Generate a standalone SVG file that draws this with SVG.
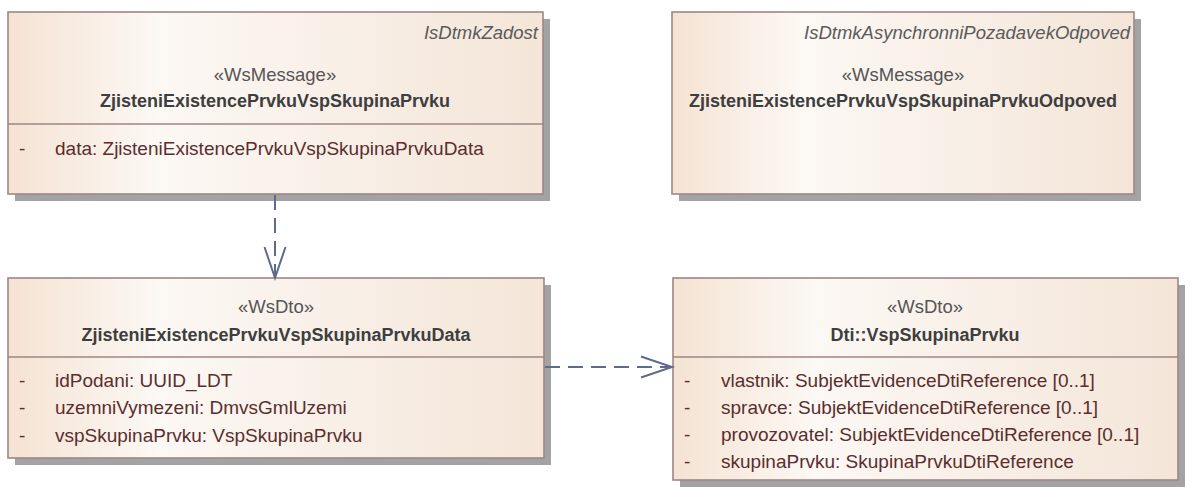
<svg xmlns="http://www.w3.org/2000/svg" width="1194" height="487" viewBox="0 0 1194 487">
<defs>
<linearGradient id="fill" x1="0" y1="0" x2="1" y2="0">
<stop offset="0" stop-color="#f5e3d3"/>
<stop offset="0.28" stop-color="#fcf8f4"/>
<stop offset="1" stop-color="#f4e5d8"/>
</linearGradient>
<marker id="open" markerUnits="userSpaceOnUse" markerWidth="40" markerHeight="40" viewBox="-36 -14 40 28" refX="0" refY="0" orient="auto">
<path d="M-31,-10.5 L0,0 L-31,10.5" fill="none" stroke="#5f6b8a" stroke-width="2"/>
</marker>
</defs>
<style>
.shadow{fill:#a3a3a3}
.box{fill:url(#fill);stroke:#9e8686;stroke-width:1.6}
.sep{stroke:#9e8686;stroke-width:1.6}
text{font-family:"Liberation Sans",Arial,sans-serif;font-size:19px}
.ns{fill:#5a5a5a;font-style:italic;text-anchor:end;font-size:18.5px}
.st{fill:#555555;text-anchor:middle;font-size:18.5px}
.ti{fill:#3e3e3e;font-weight:bold;text-anchor:middle;font-size:18px}
.at{fill:#5a2e2e}
.conn{fill:none;stroke:#5f6b8a;stroke-width:2;stroke-dasharray:15 8}
</style>
<g id="node-request">
<rect class="shadow" x="15" y="19" width="535" height="182"/>
<rect class="box" x="8" y="12" width="535" height="182"/>
<line class="sep" x1="8" y1="124" x2="543" y2="124"/>
<text class="ns" x="538" y="39">IsDtmkZadost</text>
<text class="st" x="275" y="81">«WsMessage»</text>
<text class="ti" x="275" y="107">ZjisteniExistencePrvkuVspSkupinaPrvku</text>
<text class="at" x="19" y="155">-</text>
<text class="at" x="55" y="155">data: ZjisteniExistencePrvkuVspSkupinaPrvkuData</text>
</g>
<g id="node-response">
<rect class="shadow" x="679" y="19" width="462" height="182"/>
<rect class="box" x="672" y="12" width="462" height="182"/>
<text class="ns" x="1130" y="39">IsDtmkAsynchronniPozadavekOdpoved</text>
<text class="st" x="903" y="81">«WsMessage»</text>
<text class="ti" x="903" y="107">ZjisteniExistencePrvkuVspSkupinaPrvkuOdpoved</text>
</g>
<g id="node-data">
<rect class="shadow" x="15" y="285" width="536" height="180"/>
<rect class="box" x="8" y="278" width="536" height="180"/>
<line class="sep" x1="8" y1="357" x2="544" y2="357"/>
<text class="st" x="276" y="313">«WsDto»</text>
<text class="ti" x="276" y="341">ZjisteniExistencePrvkuVspSkupinaPrvkuData</text>
<text class="at" x="19" y="387">-</text>
<text class="at" x="55" y="387">idPodani: UUID_LDT</text>
<text class="at" x="19" y="414">-</text>
<text class="at" x="55" y="414">uzemniVymezeni: DmvsGmlUzemi</text>
<text class="at" x="19" y="442">-</text>
<text class="at" x="55" y="442">vspSkupinaPrvku: VspSkupinaPrvku</text>
</g>
<g id="node-vsp">
<rect class="shadow" x="680" y="285" width="505" height="202"/>
<rect class="box" x="673" y="278" width="505" height="202"/>
<line class="sep" x1="673" y1="357" x2="1178" y2="357"/>
<text class="st" x="925" y="313">«WsDto»</text>
<text class="ti" x="925" y="341">Dti::VspSkupinaPrvku</text>
<text class="at" x="684" y="387">-</text>
<text class="at" x="721" y="387">vlastnik: SubjektEvidenceDtiReference [0..1]</text>
<text class="at" x="684" y="414">-</text>
<text class="at" x="721" y="414">spravce: SubjektEvidenceDtiReference [0..1]</text>
<text class="at" x="684" y="441">-</text>
<text class="at" x="721" y="441">provozovatel: SubjektEvidenceDtiReference [0..1]</text>
<text class="at" x="684" y="468">-</text>
<text class="at" x="721" y="468">skupinaPrvku: SkupinaPrvkuDtiReference</text>
</g>
<g id="connectors">
<path class="conn" d="M275,195 L275,278" marker-end="url(#open)"/>
<path class="conn" d="M545,367 L672,367" marker-end="url(#open)"/>
</g>
</svg>
